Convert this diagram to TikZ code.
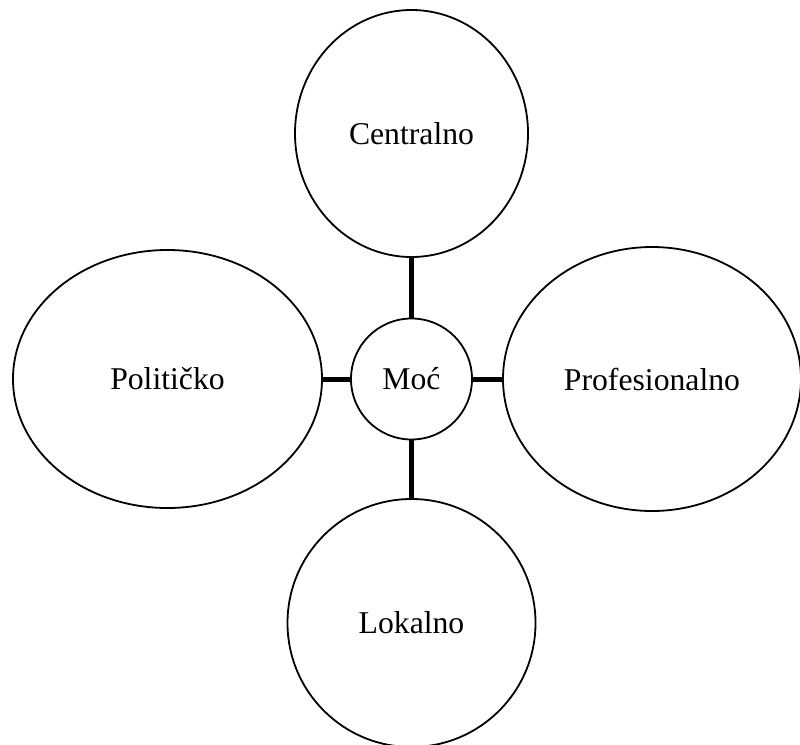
\documentclass[tikz,border=0pt]{standalone}
\usepackage{fontspec}
\setmainfont{Liberation Serif}
\usetikzlibrary{shapes.geometric}
\begin{document}
\begin{tikzpicture}[x=1pt,y=-1pt,
  bubble/.style={ellipse,draw=black,line width=1.8pt,fill=white,inner sep=0pt,
    font=\fontsize{31.7}{38}\selectfont},
  conn/.style={draw=black,line width=5pt}]
\useasboundingbox (0,0) rectangle (800,744);
\node[bubble,minimum width=233pt,minimum height=247pt] (cen) at (411.5,133.5) {Centralno};
\node[bubble,minimum width=309pt,minimum height=258pt] (pol) at (167.5,379) {Političko};
\node[bubble,minimum width=298pt,minimum height=264pt] (pro) at (652,379) {Profesionalno};
\node[bubble,minimum width=248pt,minimum height=248pt] (lok) at (411.5,623) {Lokalno};
\node[bubble,circle,minimum size=121pt] (moc) at (411.5,379) {Moć};
\draw[conn] (moc.north) -- (cen.south);
\draw[conn] (moc.south) -- (lok.north);
\draw[conn] (moc.west) -- (pol.east);
\draw[conn] (moc.east) -- (pro.west);
\end{tikzpicture}
\end{document}
